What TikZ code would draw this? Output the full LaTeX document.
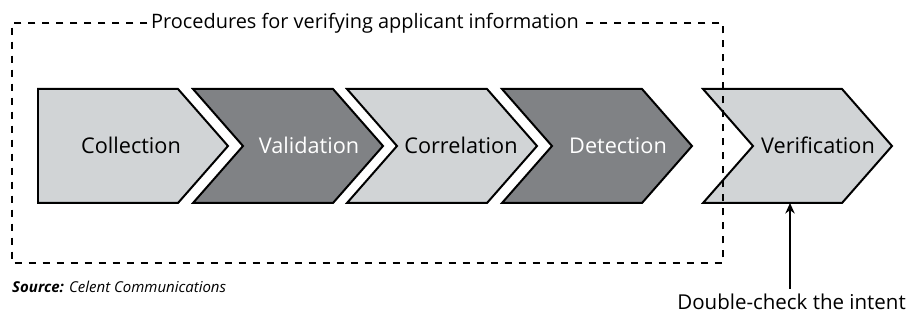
\documentclass[tikz,border=0pt]{standalone}
\usepackage{fontspec}
\setmainfont{Open Sans}
\usetikzlibrary{arrows.meta,positioning}

\begin{document}
\begin{tikzpicture}[x=0.03cm,y=0.03cm]
%
\useasboundingbox (0,0) rectangle (906,320);
%
\definecolor{cstep}{rgb}{0.82,0.83,0.84}
\definecolor{cstepdark}{rgb}{0.50,0.51,0.52}
\tikzset{
  stepshape/.style={draw=black,line width=1.7pt,line join=miter},
  steplabel/.style={font=\fontsize{18.5}{22}\selectfont,inner sep=0pt,anchor=base},
  frame/.style={line width=1.4pt,dash pattern=on 0.22cm off 0.2cm},
}
%
% chevrons
\draw[stepshape,fill=cstep] (38,231) -- (178,231) -- (228,174) -- (178,117) -- (38,117) -- cycle;
\draw[stepshape,fill=cstepdark] (193,231) -- (333,231) -- (383,174) -- (333,117) -- (193,117) -- (243,174) -- cycle;
\draw[stepshape,fill=cstep] (347,231) -- (487,231) -- (537,174) -- (487,117) -- (347,117) -- (397,174) -- cycle;
\draw[stepshape,fill=cstepdark] (502,231) -- (642,231) -- (692,174) -- (642,117) -- (502,117) -- (552,174) -- cycle;
\draw[stepshape,fill=cstep] (703,231) -- (842,231) -- (892,174) -- (842,117) -- (703,117) -- (753,174) -- cycle;
%
\node[steplabel] (collect) at (131,166) {Collection};
\node[steplabel,text=white] (valid) at (309,166) {Validation};
\node[steplabel] (correl) at (461,166) {Correlation};
\node[steplabel,text=white] (detect) at (618,166) {Detection};
\node[steplabel] (verify) at (818,166) {Verification};
%
% dashed frame round the first four steps
\node[font=\fontsize{17}{20}\selectfont,fill=white,inner xsep=3pt,inner ysep=2pt] (proc) at (365,297) {Procedures for verifying applicant information};
\draw[frame] (proc.west) -- (12,297) -- (12,57) -- (723,57) -- (723,297) -- (proc.east);
%
\node[anchor=west,inner sep=0pt,font=\fontsize{12.8}{15}\selectfont\itshape] (src) at (12,33) {\textbf{Source:} Celent Communications};
%
\node[font=\fontsize{17.5}{20}\selectfont,inner sep=0pt,anchor=east] (intent) at (906,18) {Double-check the intent};
\coordinate (vbottom) at (790,117);
\draw[line width=1.5pt,-{Stealth[length=9pt,width=8pt]}] (intent.north -| vbottom) ++(0,5) -- (vbottom);
%
\end{tikzpicture}
\end{document}
